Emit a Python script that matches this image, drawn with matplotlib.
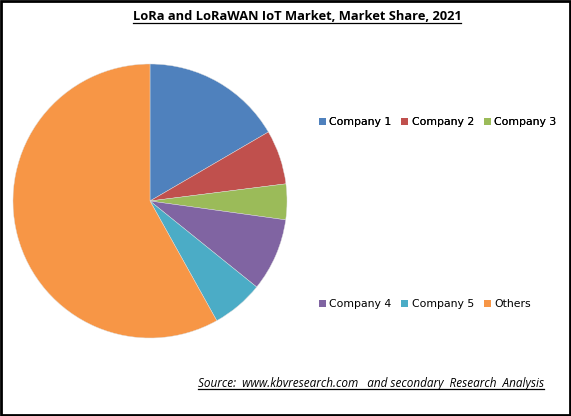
import matplotlib.pyplot as plt
from matplotlib.patches import Patch, Rectangle
from matplotlib.lines import Line2D

labels = ['Company 1', 'Company 2', 'Company 3', 'Company 4', 'Company 5', 'Others']
shares = [16.6, 6.4, 4.2, 8.6, 6.1, 58.1]
colors = ['#4F81BD', '#C0504D', '#9BBB59', '#8064A2', '#4BACC6', '#F79646']

W, H = 571, 416
fig = plt.figure(figsize=(W / 100, H / 100), dpi=100)
fig.patch.set_facecolor('white')

# pie area: center (150, 201), radius 137 px
ax = fig.add_axes([13 / W, (H - 338) / H, 274 / W, 274 / H])
ax.pie(shares, colors=colors, startangle=90, counterclock=False,
       radius=1, wedgeprops=dict(linewidth=0.3, edgecolor='#dddddd'))
ax.set_xlim(-1, 1)
ax.set_ylim(-1, 1)
ax.set_aspect('equal')
ax.axis('off')


def underlined(x, y, s, **kw):
    t = fig.text(x, y, s, ha='center', va='center', **kw)
    fig.canvas.draw()
    bb = t.get_window_extent().transformed(fig.transFigure.inverted())
    fig.add_artist(Line2D([bb.x0, bb.x1], [bb.y0 + 0.002, bb.y0 + 0.002],
                          color='black', lw=0.9, transform=fig.transFigure))
    return t


underlined(297 / W, 1 - 17 / H, 'LoRa and LoRaWAN IoT Market, Market Share, 2021',
           fontsize=9.3, fontweight='bold', family='Open Sans')
underlined(371 / W, 1 - 383 / H,
           'Source:  www.kbvresearch.com   and secondary  Research  Analysis',
           fontsize=8.5, style='italic', family='Open Sans')

handles = [Patch(facecolor=c, edgecolor='none') for c in colors]
leg_kw = dict(ncol=3, frameon=False, fontsize=7.8, handlelength=0.65,
              handleheight=0.65, handletextpad=0.3, columnspacing=0.9,
              loc='center left', borderaxespad=0, borderpad=0)
leg1 = fig.legend(handles[:3], labels[:3],
                  bbox_to_anchor=(319 / W, 1 - 122 / H), **leg_kw)
fig.add_artist(leg1)
fig.legend(handles[3:], labels[3:],
           bbox_to_anchor=(319 / W, 1 - 304 / H), **leg_kw)

# outer frame
fig.add_artist(Rectangle((0.001, 0.002), 0.997, 0.996, transform=fig.transFigure,
                         fill=False, edgecolor='black', lw=2))

fig.savefig('out.png', dpi=100)
